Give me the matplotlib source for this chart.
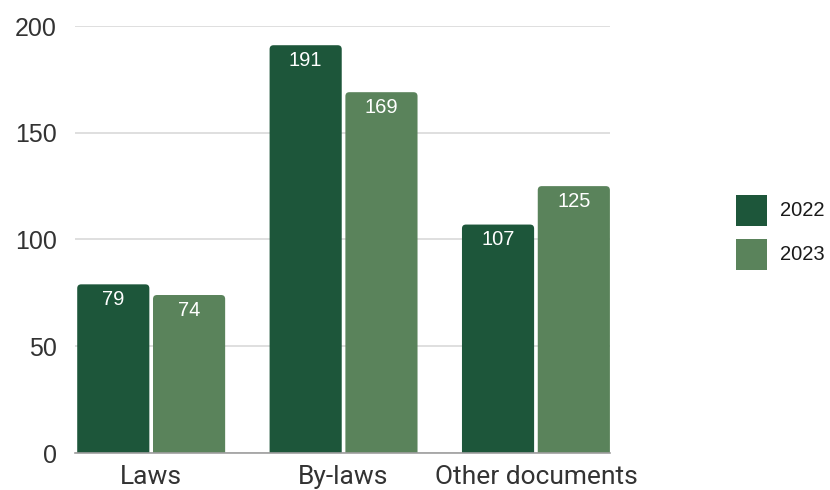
import matplotlib
matplotlib.use("Agg")
import matplotlib.pyplot as plt
from matplotlib.patches import FancyBboxPatch, Rectangle
import numpy as np

categories = ["Laws", "By-laws", "Other documents"]
series_names = ["2022", "2023"]
values_2022 = [79, 191, 107]
values_2023 = [74, 169, 125]
yticks = [0, 50, 100, 150, 200]

colors = ["#1d563a", "#5a835b"]

fig = plt.figure(figsize=(8.3, 4.9), dpi=100)
ax = fig.add_axes([75/830, 1-453/490, (610-75)/830, (453-26)/490])

x = np.arange(len(categories))
width = 0.375
offset = 0.197
ax.set_xlim(-0.396, 2.385)
ax.set_ylim(0, 200)

# px per unit
pxx = (610-75)/(2.385+0.396)
pxy = (453-26)/200
r_px = 4
rs = r_px/pxx
aspect = (r_px/pxy)/rs

for vals, col, off in [(values_2022, colors[0], -offset), (values_2023, colors[1], offset)]:
    for xi, v in zip(x, vals):
        left = xi + off - width/2
        p = FancyBboxPatch((left, -10), width, v + 10,
                           boxstyle=f"round,pad=0,rounding_size={rs}",
                           mutation_aspect=aspect, facecolor=col, edgecolor="none",
                           zorder=2)
        ax.add_patch(p)
        ax.annotate(str(v), (xi + off, v), xytext=(0, -11), textcoords="offset points",
                    ha="center", va="center", color="white", fontsize=14.5,
                    family="Liberation Sans", zorder=3)

ax.set_yticks(yticks)
ax.set_yticklabels([str(t) for t in yticks], family="Liberation Sans", fontsize=18, color="#333333")
ax.set_xticks(x)
ax.set_xticklabels(categories, family="Roboto", fontsize=19, color="#333333")
ax.tick_params(axis="both", length=0)
ax.tick_params(axis="y", pad=13)
ax.tick_params(axis="x", pad=8.5)

for s in ["top", "right", "left"]:
    ax.spines[s].set_visible(False)
ax.spines["bottom"].set_color("#9e9e9e")
ax.spines["bottom"].set_linewidth(1.2)
ax.spines["bottom"].set_zorder(4)
ax.yaxis.grid(True, color="#d6d6d6", linewidth=1.1, zorder=0)
ax.set_axisbelow(True)

# legend
for i, (name, col) in enumerate(zip(series_names, colors)):
    y_top = 195 + i*44
    fig.patches.append(Rectangle((736/830, 1-(y_top+31)/490), 31/830, 31/490,
                                 transform=fig.transFigure, facecolor=col, edgecolor="none"))
    fig.text(780/830, 1-(y_top+15.5)/490, name, ha="left", va="center",
             fontsize=14.5, family="Liberation Sans", color="#1a1a1a")

fig.savefig("out.png", dpi=100)
